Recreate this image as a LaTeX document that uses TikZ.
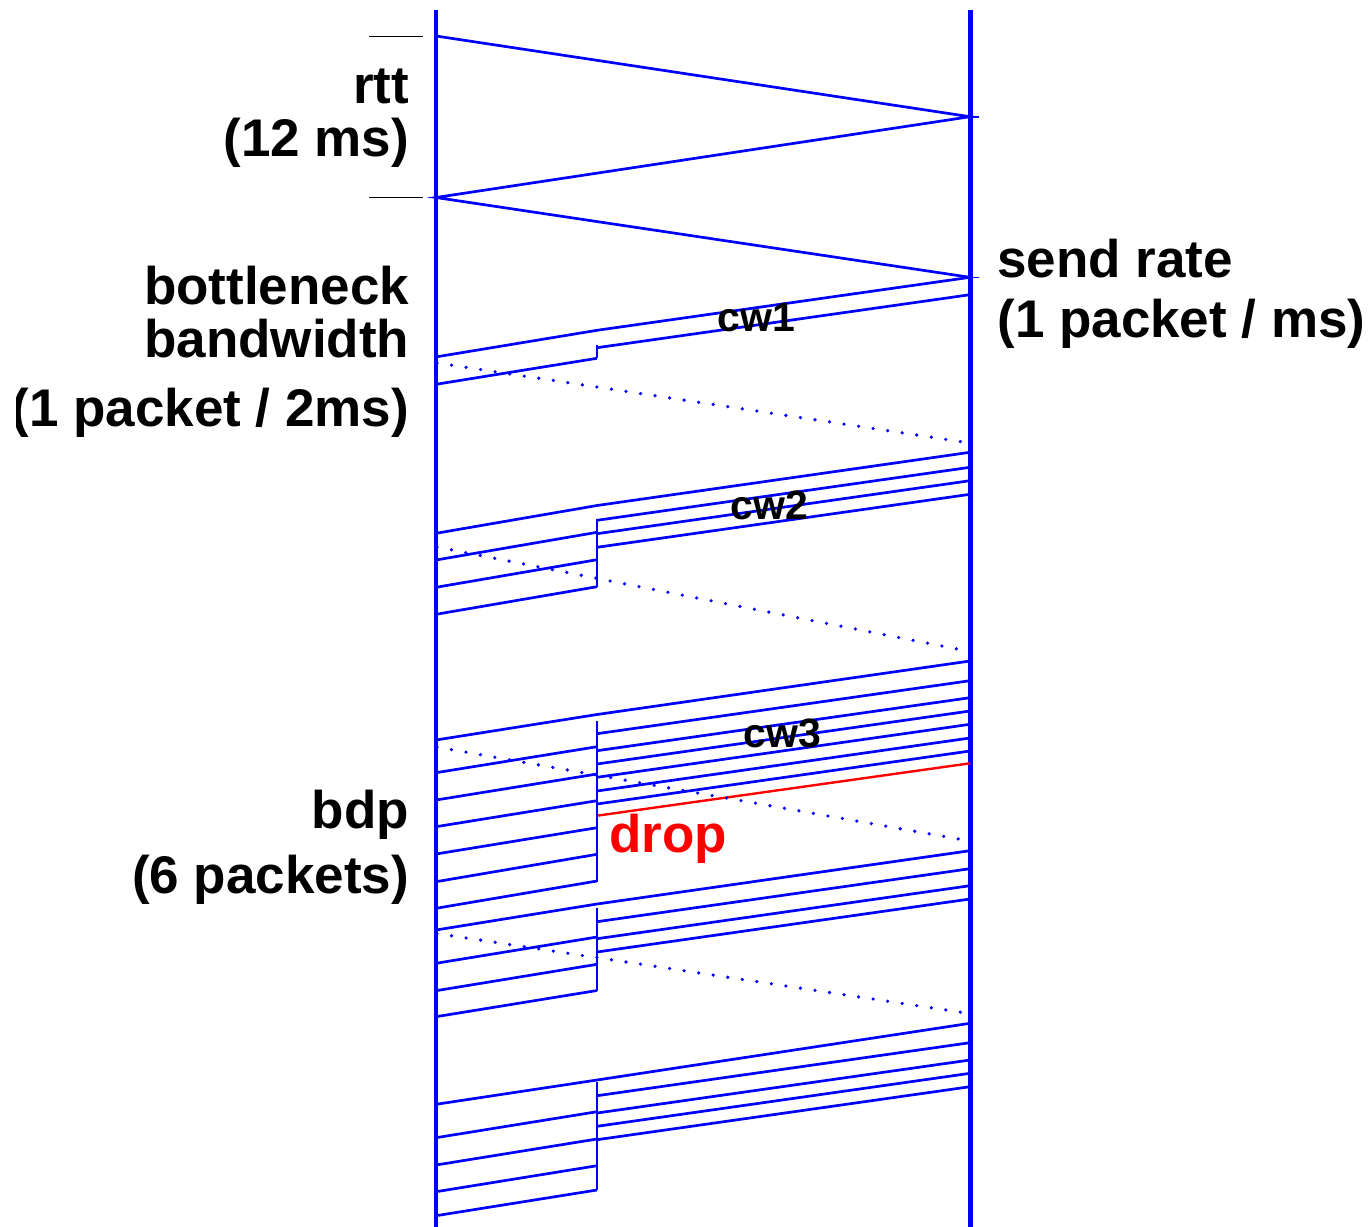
\documentclass[tikz,border=0pt]{standalone}
\usepackage{fontspec}
\setmainfont{Liberation Sans}
\begin{document}
\begin{tikzpicture}[x=0.5pt,y=-0.5pt,
  axis/.style={blue, line width=2.3pt},
  pkt/.style={blue, line width=1.35pt},
  queue/.style={blue, line width=0.7pt},
  ack/.style={blue, line width=1.8pt, line cap=round, dash pattern=on 0pt off 7.35pt},
  lostpkt/.style={red, line width=1.2pt},
  mark tick/.style={black, line width=0.5pt},
  bigl/.style={font=\bfseries\fontsize{26.5}{30}\selectfont, inner sep=0pt},
  cwl/.style={font=\bfseries\fontsize{20.5}{24}\selectfont, inner sep=0pt}]
\useasboundingbox (0,0) rectangle (1372,1227);
\begin{scope}
\clip (16,0) rectangle (1363,1227);

% receiver (left) and sender (right) time lines
\coordinate (rcvtop) at (436,9.5);
\coordinate (rcvbot) at (436,1227);
\coordinate (sndtop) at (970.5,9.5);
\coordinate (sndbot) at (970.5,1227);
\draw[axis] (rcvtop) -- (rcvbot);
\draw[axis] (sndtop) -- (sndbot);

% round trip handshake
\draw[pkt] (436,36) -- (970,116.7) -- (436,197.5) -- (970,277.3);
\draw[mark tick] (369,36) -- (423,36);
\draw[mark tick] (369,197.5) -- (423,197.5);
\draw[blue, line width=0.8pt] (962,116.7) -- (979,116.7);
\draw[blue, line width=0.8pt] (962,277.3) -- (979,277.3);

% window 1
\draw[pkt] (970,277.3) -- (597,330.3) -- (436,356.9);
\draw[pkt] (970,294.7) -- (597,347.7);
\draw[pkt] (597,358.3) -- (436,384.3);
\draw[queue] (597,345) -- (597,358.3);

% window 2
\draw[pkt] (970,452.3) -- (597,505.5) -- (436,533.3);
\foreach \r/\a in {467.3/520.3, 480.7/533.7, 494.3/547.3}
  \draw[pkt] (970,\r) -- (597,\a);
\foreach \d/\l in {532.3/560, 559.7/587.3, 586.7/614.3}
  \draw[pkt] (597,\d) -- (436,\l);
\draw[queue] (597,519.3) -- (597,586.7);

% window 3
\draw[pkt] (970,661) -- (597,714.5) -- (436,740);
\foreach \r/\a in {680.7/733.7, 697.7/750.7, 711/764, 724.3/777.3, 738/791, 751/804}
  \draw[pkt] (970,\r) -- (597,\a);
\foreach \d/\l in {746.7/772.7, 774/800, 800.7/826.7, 827.7/854, 854.3/881.7, 881/908.3}
  \draw[pkt] (597,\d) -- (436,\l);
\draw[lostpkt] (970,763.3) -- (597,815.7);
\draw[queue] (597,720.7) -- (597,881.7);

% window 4
\draw[pkt] (970,850.7) -- (597,904) -- (436,930);
\foreach \r/\a in {868.7/921.7, 885.7/938.7, 899/952}
  \draw[pkt] (970,\r) -- (597,\a);
\foreach \d/\l in {937/963.3, 964.3/990.7, 990.5/1016.7}
  \draw[pkt] (597,\d) -- (436,\l);
\draw[queue] (597,908.3) -- (597,990.7);

% window 5
\draw[pkt] (970,1023.3) -- (597,1080) -- (436,1104.3);
\foreach \r/\a in {1042.7/1095.7, 1060/1113, 1073.3/1126.3, 1086.7/1139.7}
  \draw[pkt] (970,\r) -- (597,\a);
\foreach \d/\l in {1111.7/1137.7, 1139/1165, 1165.7/1191.7, 1190/1215.7}
  \draw[pkt] (597,\d) -- (436,\l);
\draw[queue] (597,1081.7) -- (597,1190);

% acknowledgements
\draw[ack] (437,363) -- (970,443);
\draw[ack] (437,547) -- (970,651.5);
\draw[ack] (437,747) -- (970,841);
\draw[ack] (437,933.6) -- (970,1013.6);

% labels
\node[bigl, anchor=base east] (rtt) at (409.5,103) {rtt};
\node[bigl, anchor=base east] (rttval) at (409.5,156.7) {(12 ms)};
\node[bigl, anchor=base east] (bw1) at (409.5,304) {bottleneck};
\node[bigl, anchor=base east] (bw2) at (409.5,357.3) {bandwidth};
\node[bigl, anchor=base east] (bw3) at (409.5,426) {(1 packet / 2ms)};
\node[bigl, anchor=base east] (bdp) at (409.5,828) {bdp};
\node[bigl, anchor=base east] (bdpval) at (409.5,893) {(6 packets)};
\node[bigl, anchor=base west] (rate1) at (997,277) {send rate};
\node[bigl, anchor=base west] (rate2) at (997,337) {(1 packet / ms)};
\node[bigl, red, anchor=base west] (drop) at (609,852) {drop};
\node[cwl, anchor=base west] (cw1) at (717,331) {cw1};
\node[cwl, anchor=base west] (cw2) at (730,519) {cw2};
\node[cwl, anchor=base west] (cw3) at (743,747) {cw3};
\end{scope}
\end{tikzpicture}
\end{document}
